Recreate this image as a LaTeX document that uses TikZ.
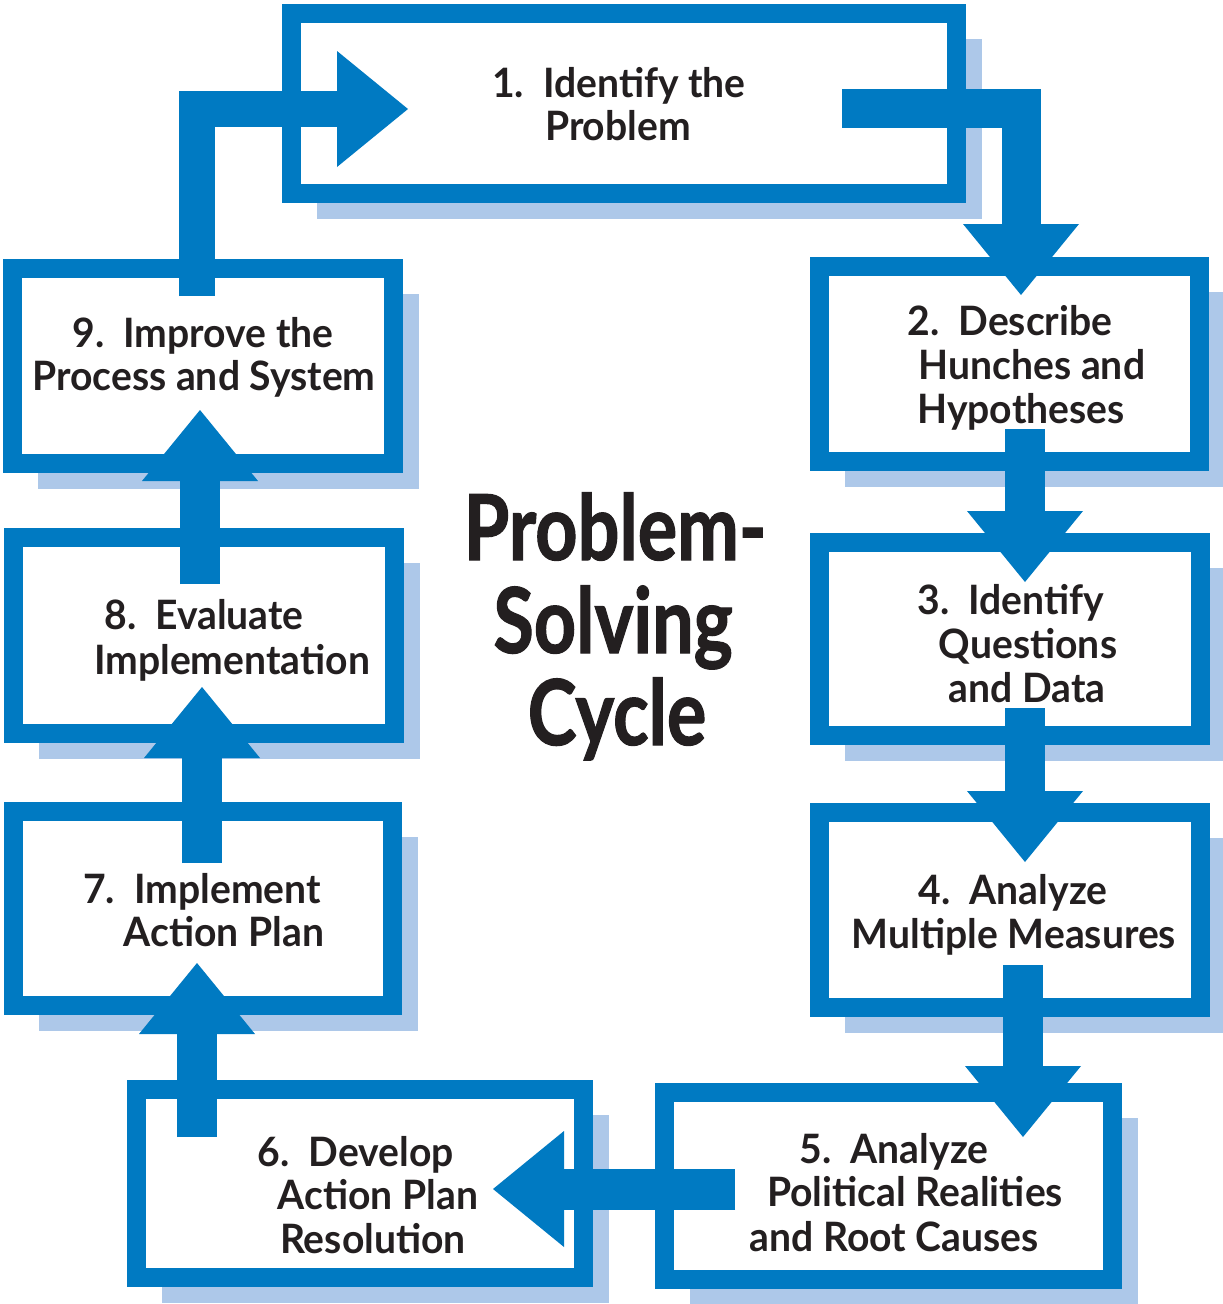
\documentclass[tikz,border=0pt]{standalone}
\usepackage{fontspec}
\setmainfont{Lato}
\newfontfamily\bodyfont[FakeStretch=0.965]{Lato}
\newfontfamily\titlefont[FakeStretch=0.81,FakeBold=1.2]{Lato}
\usetikzlibrary{arrows.meta,calc}

\definecolor{cycblue}{RGB}{0,122,194}
\definecolor{cycshade}{RGB}{173,200,233}
\definecolor{ink}{RGB}{35,31,32}

% stage box: name, left, top, right, bottom (outer edges, y grows downwards)
\newcommand\stagebox[5]{%
  \fill[cycshade] (#2+35,#3+35) rectangle (#4+16,#5+16);
  \node[stage, minimum width={#4-#2-19}, minimum height={#5-#3-19}]
    (#1) at ({(#2+#4)/2},{(#3+#5)/2}) {};
}

\begin{document}
\begin{tikzpicture}[x=1pt,y=-1pt,
  stage/.style={draw=cycblue, fill=white, line width=19pt, inner sep=0pt, outer sep=0pt},
  flow/.style={draw=cycblue, line width=40pt, line join=miter,
    -{Triangle[width=116pt,length=71pt,line width=0pt]}},
  steptext/.style={anchor=base, text=ink, inner sep=0pt,
    font=\bodyfont\fontsize{40.5}{43}\selectfont\bfseries},
  headline/.style={anchor=base, text=ink, inner sep=0pt,
    font=\titlefont\fontsize{91}{93}\selectfont\bfseries}]

\fill[white] (0,0) rectangle (1223,1304);
\useasboundingbox (0,0) rectangle (1223,1304);

% the nine stages
\stagebox{b1}{282}{4}{966}{203}
\stagebox{b2}{810}{257}{1209}{471}
\stagebox{b3}{810}{533}{1210}{745}
\stagebox{b4}{810}{803}{1210}{1017}
\stagebox{b5}{655}{1083}{1122}{1289}
\stagebox{b6}{127}{1080}{593}{1287}
\stagebox{b7}{4}{802}{402}{1015}
\stagebox{b8}{4}{528}{404}{743}
\stagebox{b9}{3}{259}{403}{473}

% stage labels
\node[steptext] (t1a) at (619,97)   {1.\ \ Identify the};
\node[steptext] (t1b) at (618,140)  {Problem};
\node[steptext] (t2a) at (1010,335) {2.\ \ Describe};
\node[steptext] (t2b) at (1032,379) {Hunches and};
\node[steptext] (t2c) at (1021,423) {Hypotheses};
\node[steptext] (t3a) at (1011,614) {3.\ \ Identify};
\node[steptext] (t3b) at (1028,658) {Questions};
\node[steptext] (t3c) at (1027,702) {and Data};
\node[steptext] (t4a) at (1013,904) {4.\ \ Analyze};
\node[steptext] (t4b) at (1014,948) {Multiple Measures};
\node[steptext] (t5a) at (894,1163) {5.\ \ Analyze};
\node[steptext] (t5b) at (915,1206) {Political Realities};
\node[steptext] (t5c) at (894,1251) {and Root Causes};
\node[steptext] (t6a) at (356,1166) {6.\ \ Develop};
\node[steptext] (t6b) at (378,1209) {Action Plan};
\node[steptext] (t6c) at (373,1253) {Resolution};
\node[steptext] (t7a) at (202,903)  {7.\ \ Implement};
\node[steptext] (t7b) at (224,946)  {Action Plan};
\node[steptext] (t8a) at (204,629)  {8.\ \ Evaluate};
\node[steptext] (t8b) at (232,674)  {Implementation};
\node[steptext] (t9a) at (203,347)  {9.\ \ Improve the};
\node[steptext] (t9b) at (204,390)  {Process and System};

% centre title
\node[headline] (h1) at (615,560) {Problem-};
\node[headline] (h2) at (613,653) {Solving};
\node[headline] (h3) at (617,745) {Cycle};

% arrow ends
\coordinate (a91s) at (197,296);   \coordinate (a91e) at (408,109);
\coordinate (a12s) at (842,108.5); \coordinate (a12e) at (1021,295);
\coordinate (a23s) at (1025,429);  \coordinate (a23e) at (1025,582);
\coordinate (a34s) at (1025,708);  \coordinate (a34e) at (1025,862);
\coordinate (a45s) at (1023,965);  \coordinate (a45e) at (1023,1137);
\coordinate (a56s) at (735,1189);  \coordinate (a56e) at (493,1189);
\coordinate (a67s) at (197,1137);  \coordinate (a67e) at (197,963);
\coordinate (a78s) at (202,863);   \coordinate (a78e) at (202,687);
\coordinate (a89s) at (200,584);   \coordinate (a89e) at (200,410);

% cycle arrows
\draw[flow, line width=36pt] (a91s) |- (a91e);
\draw[flow, line width=39pt] (a12s) -| (a12e);
\draw[flow] (a23s) -- (a23e);
\draw[flow] (a34s) -- (a34e);
\draw[flow] (a45s) -- (a45e);
\draw[flow, line width=41pt] (a56s) -- (a56e);
\draw[flow] (a67s) -- (a67e);
\draw[flow] (a78s) -- (a78e);
\draw[flow] (a89s) -- (a89e);

\end{tikzpicture}
\end{document}
